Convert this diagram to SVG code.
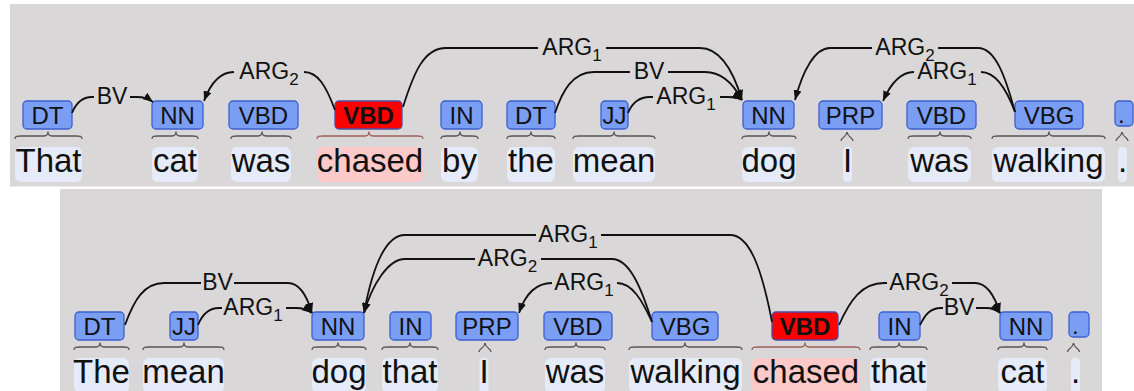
<svg xmlns="http://www.w3.org/2000/svg" width="1134" height="391" viewBox="0 0 1134 391">
<style>
.panel{fill:#d9d7d7}
.tag{fill:#7b9ef5;stroke:#3d5fd0;stroke-width:1.3}
.tagr{fill:#ff0000;stroke:#4b4fa8;stroke-width:1.3}
.tt{font-family:"Liberation Sans",Arial,sans-serif;font-size:24px;fill:#111;text-anchor:middle}
.ttb{font-weight:bold}
.dott{font-family:"Liberation Sans",Arial,sans-serif;font-size:24px;fill:#111}
.wbg{fill:#e6ebf9}
.wbgr{fill:#fdc9c9}
.wt{font-family:"Liberation Sans",Arial,sans-serif;font-size:33px;fill:#111;text-anchor:middle}
.wts{font-family:"Liberation Sans",Arial,sans-serif;font-size:33px;fill:#111}
.br{fill:none;stroke:#555;stroke-width:1.3}
.brr{fill:none;stroke:#a0605a;stroke-width:1.3}
.arc{fill:none;stroke:#111;stroke-width:1.8}
.arr{marker-end:url(#ah)}
.lbl{font-family:"Liberation Sans",Arial,sans-serif;font-size:23px;fill:#111;text-anchor:middle}
.sub{font-size:17px}
</style>
<defs>
<marker id="ah" viewBox="0 0 10 8" refX="10" refY="4" markerWidth="10" markerHeight="8" markerUnits="userSpaceOnUse" orient="auto"><path d="M0,0 L10,4 L0,8 z" fill="#111"/></marker>
</defs>
<rect class="panel" x="10" y="4" width="1124" height="182.5"/>
<rect class="panel" x="60" y="189" width="1042" height="202"/>

<!-- top sentence -->
<g id="t1"><rect class="wbg" x="15" y="147" width="67" height="35" rx="6"/><text class="wt" x="48.5" y="172">That</text><path class="br" d="M15,139 C15,136 17,136 21,136 L44,136 C47,136 48,134.5 48,131.5 C48,134.5 49,136 52,136 L76,136 C80,136 82,136 82,139"/><rect class="tag" x="23" y="101" width="49" height="28" rx="4"/><text class="tt" x="47.5" y="124">DT</text></g>
<g id="t2"><rect class="wbg" x="152" y="147" width="46" height="35" rx="6"/><text class="wt" x="175" y="172">cat</text><path class="br" d="M152,139 C152,136 154,136 158,136 L172,136 C175,136 176,134.5 176,131.5 C176,134.5 177,136 180,136 L192,136 C196,136 198,136 198,139"/><rect class="tag" x="152" y="101" width="51" height="28" rx="4"/><text class="tt" x="177.5" y="124">NN</text></g>
<g id="t3"><rect class="wbg" x="231" y="147" width="60" height="35" rx="6"/><text class="wt" x="261" y="172">was</text><path class="br" d="M231,139 C231,136 233,136 237,136 L258,136 C261,136 262,134.5 262,131.5 C262,134.5 263,136 266,136 L285,136 C289,136 291,136 291,139"/><rect class="tag" x="229" y="101" width="69" height="28" rx="4"/><text class="tt" x="263.5" y="124">VBD</text></g>
<g id="t4"><rect class="wbgr" x="317" y="147" width="106" height="35" rx="6"/><text class="wt" x="370" y="172">chased</text><path class="brr" d="M317,139 C317,136 319,136 323,136 L365,136 C368,136 369,134.5 369,131.5 C369,134.5 370,136 373,136 L417,136 C421,136 423,136 423,139"/><rect class="tagr" x="335" y="101" width="67" height="28" rx="4"/><text class="tt ttb" x="368.5" y="124">VBD</text></g>
<g id="t5"><rect class="wbg" x="441" y="147" width="37" height="35" rx="6"/><text class="wt" x="459.5" y="172">by</text><path class="br" d="M441,139 C441,136 443,136 447,136 L456,136 C459,136 460,134.5 460,131.5 C460,134.5 461,136 464,136 L472,136 C476,136 478,136 478,139"/><rect class="tag" x="441" y="101" width="41" height="28" rx="4"/><text class="tt" x="461.5" y="124">IN</text></g>
<g id="t6"><rect class="wbg" x="507" y="147" width="48" height="35" rx="6"/><text class="wt" x="531" y="172">the</text><path class="br" d="M507,139 C507,136 509,136 513,136 L527,136 C530,136 531,134.5 531,131.5 C531,134.5 532,136 535,136 L549,136 C553,136 555,136 555,139"/><rect class="tag" x="507" y="101" width="48" height="28" rx="4"/><text class="tt" x="531" y="124">DT</text></g>
<g id="t7"><rect class="wbg" x="573" y="147" width="82" height="35" rx="6"/><text class="wt" x="614" y="172">mean</text><path class="br" d="M573,139 C573,136 575,136 579,136 L610,136 C613,136 614,134.5 614,131.5 C614,134.5 615,136 618,136 L649,136 C653,136 655,136 655,139"/><rect class="tag" x="601" y="101" width="27" height="28" rx="4"/><text class="tt" x="614.5" y="124">JJ</text></g>
<g id="t8"><rect class="wbg" x="742" y="147" width="54" height="35" rx="6"/><text class="wt" x="769" y="172">dog</text><path class="br" d="M742,139 C742,136 744,136 748,136 L765,136 C768,136 769,134.5 769,131.5 C769,134.5 770,136 773,136 L790,136 C794,136 796,136 796,139"/><rect class="tag" x="743" y="101" width="51" height="28" rx="4"/><text class="tt" x="768.5" y="124">NN</text></g>
<g id="t9"><rect class="wbg" x="843" y="147" width="9" height="35" rx="4"/><text class="wt" x="847.5" y="172">I</text><path class="br" d="M841,141 C841,137 846,138 847,132 C848,138 853,137 853,141"/><rect class="tag" x="819" y="101" width="63" height="28" rx="4"/><text class="tt" x="850.5" y="124">PRP</text></g>
<g id="t10"><rect class="wbg" x="908" y="147" width="63" height="35" rx="6"/><text class="wt" x="939.5" y="172">was</text><path class="br" d="M908,139 C908,136 910,136 914,136 L936,136 C939,136 940,134.5 940,131.5 C940,134.5 941,136 944,136 L965,136 C969,136 971,136 971,139"/><rect class="tag" x="907" y="101" width="69" height="28" rx="4"/><text class="tt" x="941.5" y="124">VBD</text></g>
<g id="t11"><rect class="wbg" x="992" y="147" width="113" height="35" rx="6"/><text class="wt" x="1048.5" y="172">walking</text><path class="br" d="M992,139 C992,136 994,136 998,136 L1045,136 C1048,136 1049,134.5 1049,131.5 C1049,134.5 1050,136 1053,136 L1099,136 C1103,136 1105,136 1105,139"/><rect class="tag" x="1015" y="101" width="68" height="28" rx="4"/><text class="tt" x="1049" y="124">VBG</text></g>
<g id="t12"><rect class="wbg" x="1118" y="147" width="9" height="35" rx="4"/><text class="wts" x="1118" y="172">.</text><path class="br" d="M1116,141 C1116,137 1121,138 1122,132 C1123,138 1128,137 1128,141"/><rect class="tag" x="1115" y="101" width="18" height="25" rx="4"/><text class="dott" x="1118" y="123">.</text></g>

<!-- bottom sentence -->
<g id="b1"><rect class="wbg" x="74" y="358" width="55" height="35" rx="6"/><text class="wt" x="101.5" y="383">The</text><path class="br" d="M74,350 C74,347 76,347 80,347 L96,347 C99,347 100,345.5 100,342.5 C100,345.5 101,347 104,347 L123,347 C127,347 129,347 129,350"/><rect class="tag" x="75" y="312" width="49" height="28" rx="4"/><text class="tt" x="99.5" y="335">DT</text></g>
<g id="b2"><rect class="wbg" x="143" y="358" width="81" height="35" rx="6"/><text class="wt" x="183.5" y="383">mean</text><path class="br" d="M143,350 C143,347 145,347 149,347 L180,347 C183,347 184,345.5 184,342.5 C184,345.5 185,347 188,347 L218,347 C222,347 224,347 224,350"/><rect class="tag" x="170" y="312" width="28" height="28" rx="4"/><text class="tt" x="184" y="335">JJ</text></g>
<g id="b3"><rect class="wbg" x="312" y="358" width="54" height="35" rx="6"/><text class="wt" x="339" y="383">dog</text><path class="br" d="M312,350 C312,347 314,347 318,347 L334,347 C337,347 338,345.5 338,342.5 C338,345.5 339,347 342,347 L360,347 C364,347 366,347 366,350"/><rect class="tag" x="312" y="312" width="52" height="28" rx="4"/><text class="tt" x="338" y="335">NN</text></g>
<g id="b4"><rect class="wbg" x="382" y="358" width="56" height="35" rx="6"/><text class="wt" x="410" y="383">that</text><path class="br" d="M382,350 C382,347 384,347 388,347 L406,347 C409,347 410,345.5 410,342.5 C410,345.5 411,347 414,347 L432,347 C436,347 438,347 438,350"/><rect class="tag" x="390" y="312" width="41" height="28" rx="4"/><text class="tt" x="410.5" y="335">IN</text></g>
<g id="b5"><rect class="wbg" x="479.5" y="358" width="9" height="35" rx="4"/><text class="wt" x="484" y="383">I</text><path class="br" d="M479,352 C479,348 484,349 485,343 C486,349 491,348 491,352"/><rect class="tag" x="456" y="312" width="62" height="28" rx="4"/><text class="tt" x="487" y="335">PRP</text></g>
<g id="b6"><rect class="wbg" x="545" y="358" width="60" height="35" rx="6"/><text class="wt" x="575" y="383">was</text><path class="br" d="M545,350 C545,347 547,347 551,347 L572,347 C575,347 576,345.5 576,342.5 C576,345.5 577,347 580,347 L599,347 C603,347 605,347 605,350"/><rect class="tag" x="544" y="312" width="68" height="28" rx="4"/><text class="tt" x="578" y="335">VBD</text></g>
<g id="b7"><rect class="wbg" x="629" y="358" width="113" height="35" rx="6"/><text class="wt" x="685.5" y="383">walking</text><path class="br" d="M629,350 C629,347 631,347 635,347 L681,347 C684,347 685,345.5 685,342.5 C685,345.5 686,347 689,347 L736,347 C740,347 742,347 742,350"/><rect class="tag" x="652" y="312" width="66" height="28" rx="4"/><text class="tt" x="685" y="335">VBG</text></g>
<g id="b8"><rect class="wbgr" x="752" y="358" width="108" height="35" rx="6"/><text class="wt" x="806" y="383">chased</text><path class="brr" d="M752,350 C752,347 754,347 758,347 L801,347 C804,347 805,345.5 805,342.5 C805,345.5 806,347 809,347 L854,347 C858,347 860,347 860,350"/><rect class="tagr" x="772" y="312" width="66" height="28" rx="4"/><text class="tt ttb" x="805" y="335">VBD</text></g>
<g id="b9"><rect class="wbg" x="870" y="358" width="57" height="35" rx="6"/><text class="wt" x="898.5" y="383">that</text><path class="br" d="M870,350 C870,347 872,347 876,347 L895,347 C898,347 899,345.5 899,342.5 C899,345.5 900,347 903,347 L921,347 C925,347 927,347 927,350"/><rect class="tag" x="879" y="312" width="41" height="28" rx="4"/><text class="tt" x="899.5" y="335">IN</text></g>
<g id="b10"><rect class="wbg" x="998" y="358" width="49" height="35" rx="6"/><text class="wt" x="1022.5" y="383">cat</text><path class="br" d="M998,350 C998,347 1000,347 1004,347 L1020,347 C1023,347 1024,345.5 1024,342.5 C1024,345.5 1025,347 1028,347 L1041,347 C1045,347 1047,347 1047,350"/><rect class="tag" x="1000" y="312" width="52" height="28" rx="4"/><text class="tt" x="1026" y="335">NN</text></g>
<g id="b11"><rect class="wbg" x="1071" y="358" width="9" height="35" rx="4"/><text class="wts" x="1071" y="383">.</text><path class="br" d="M1067.5,352 C1067.5,348 1072.5,349 1073.5,343 C1074.5,349 1079.5,348 1079.5,352"/><rect class="tag" x="1069" y="312" width="20" height="25" rx="4"/><text class="dott" x="1072" y="334">.</text></g>

<g id="connectors">
<!-- top -->
<path class="arc" d="M72,113 C76,103 82,97 92,97 L94,97"/>
<path class="arc arr" d="M130,97 L137,97 C144,97 149,99 153,102"/>
<text class="lbl" x="112" y="104">BV</text>

<path class="arc arr" d="M234,72 C220,72 211,82 204,101"/>
<path class="arc" d="M304,72 C318,72 326,86 335,110"/>
<text class="lbl" x="269" y="79">ARG<tspan class="sub" dy="6">2</tspan></text>

<path class="arc" d="M403,107 C414,72 424,48 446,48 L538,48"/>
<path class="arc arr" d="M606,48 L700,48 C720,48 733,70 742,100"/>
<text class="lbl" x="572" y="55">ARG<tspan class="sub" dy="6">1</tspan></text>

<path class="arc" d="M555,113 C562,92 572,72 594,72 L630,72"/>
<path class="arc arr" d="M668,72 L705,72 C722,72 734,85 742,100"/>
<text class="lbl" x="649" y="79">BV</text>

<path class="arc" d="M628,113 C632,103 638,97 650,97 L653,97"/>
<path class="arc arr" d="M720,97 L728,97 C735,97 739,98 742,100"/>
<text class="lbl" x="686" y="104">ARG<tspan class="sub" dy="6">1</tspan></text>

<path class="arc arr" d="M872,48 L830,48 C815,48 803,70 795,100"/>
<path class="arc" d="M938,48 L978,48 C995,48 1005,75 1015,112"/>
<text class="lbl" x="905" y="55">ARG<tspan class="sub" dy="6">2</tspan></text>

<path class="arc arr" d="M914,72 C900,72 890,85 883,101"/>
<path class="arc" d="M981,72 C994,72 1005,85 1015,112"/>
<text class="lbl" x="947" y="79">ARG<tspan class="sub" dy="6">1</tspan></text>

<!-- bottom -->
<path class="arc" d="M125,325 C134,300 144,283 164,283 L201,283"/>
<path class="arc arr" d="M234,283 L288,283 C300,283 307,296 312,313"/>
<text class="lbl" x="217.5" y="290">BV</text>

<path class="arc" d="M198,325 C202,315 208,308 219,308 L222,308"/>
<path class="arc arr" d="M286,308 L296,308 C303,308 308,310 312,313"/>
<text class="lbl" x="253" y="315">ARG<tspan class="sub" dy="6">1</tspan></text>

<path class="arc arr" d="M536,235 L405,235 C385,235 372,270 364,313"/>
<path class="arc" d="M601,235 L730,235 C750,235 762,270 772,322"/>
<text class="lbl" x="568" y="242">ARG<tspan class="sub" dy="6">1</tspan></text>

<path class="arc arr" d="M475,259 L405,259 C388,259 372,285 364,313"/>
<path class="arc" d="M541,259 L612,259 C630,259 642,290 652,322"/>
<text class="lbl" x="507.5" y="266">ARG<tspan class="sub" dy="6">2</tspan></text>

<path class="arc arr" d="M552,283 C536,283 525,295 519,313"/>
<path class="arc" d="M617,283 C632,283 642,300 652,322"/>
<text class="lbl" x="584" y="290">ARG<tspan class="sub" dy="6">1</tspan></text>

<path class="arc" d="M839,325 C850,300 862,283 884,283 L887,283"/>
<path class="arc arr" d="M952,283 L975,283 C988,283 995,297 1000,313"/>
<text class="lbl" x="919" y="290">ARG<tspan class="sub" dy="6">2</tspan></text>

<path class="arc" d="M920,325 C925,315 930,308 941,308 L943,308"/>
<path class="arc arr" d="M976,308 L986,308 C993,308 997,310 1000,313"/>
<text class="lbl" x="959" y="315">BV</text>
</g>
</svg>
